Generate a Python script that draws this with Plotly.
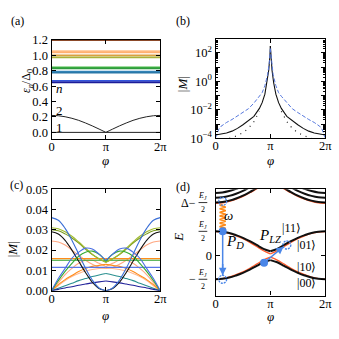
import math
import plotly.graph_objects as go

W = H = 339
FONT = "Liberation Serif"

# ---------------- data ----------------
# phi in units of pi, half grid 0..pi (mirrored about pi)
phi_half = [0, 0.125, 0.25, 0.375, 0.5, 0.625, 0.75, 0.875, 1.0]

# (a) Andreev levels
eps1_half = [0, 0, 0, 0, 0, 0, 0, 0, 0]
eps2_half = [0.22, 0.216, 0.203, 0.183, 0.156, 0.122, 0.084, 0.043, 0.0]
flat_levels = [1.2, 1.055, 1.04, 1.0, 0.975, 0.845, 0.832, 0.79, 0.778, 0.668, 0.65]
flat_colors = ["#8c4a2a", "#ffc08a", "#ffb070", "#d9a040", "#aab23a", "#44bb44",
               "#2e9a3e", "#3a8fc4", "#2a78a8", "#3355dd", "#1c1c99"]
label_a = [("<i>n</i>", 0.14, 0.57), ("2", 0.14, 0.28), ("1", 0.155, 0.06)]

# (b) |M| log
phi_b_black = [0, 0.1, 0.2, 0.3, 0.4, 0.5, 0.6, 0.7, 0.8, 0.85, 0.9, 0.94, 0.97, 0.99, 1.0]
M_black = [1.7e-4, 1.9e-4, 2.4e-4, 3.2e-4, 5e-4, 9e-4, 1.7e-3, 3.5e-3, 1.26e-2, 3.2e-2,
           0.126, 0.8, 6.0, 50.0, 300.0]
phi_b_blue = [0, 0.03, 0.06, 0.1, 0.15, 0.2, 0.3, 0.4, 0.5, 0.6, 0.7, 0.8, 0.85, 0.9,
              0.95, 0.98, 1.0]
M_blue = [1.1e-4, 2.5e-4, 4.5e-4, 7e-4, 1.0e-3, 1.3e-3, 2.1e-3, 3.6e-3, 6.5e-3, 1.2e-2,
          3.0e-2, 9e-2, 0.16, 0.5, 3.0, 20.0, 200.0]
phi_b_dot = [0.25, 0.3, 0.4, 0.5, 0.6, 0.7, 0.8]
M_dot = [1.0e-4, 1.1e-4, 1.6e-4, 2.5e-4, 5e-4, 1.5e-3, 8e-3]

# (c) |M| linear, values at phi_half (mirrored)
c_curves = [
    ("#ffa882", [0.0245, 0.024, 0.0225, 0.020, 0.0175, 0.015, 0.013, 0.0115, 0.011]),
    ("#ffa882", [0, 0.004, 0.008, 0.011, 0.0135, 0.015, 0.015, 0.0135, 0.012]),
    ("#ffb890", [0, 0.0025, 0.005, 0.007, 0.0085, 0.0097, 0.0105, 0.011, 0.0112]),
    ("#ff8c1a", [0, 0.003, 0.0055, 0.0075, 0.0095, 0.011, 0.012, 0.0125, 0.013]),
    ("#ff8c1a", [0.0158] * 9),
    ("#2ca02c", [0.0150] * 9),
    ("#5a78e8", [0.0115] * 9),
    ("#2a9090", [0, 0.0012, 0.0025, 0.0037, 0.005, 0.006, 0.007, 0.0078, 0.0085]),
    ("#22229a", [0, 0.0007, 0.0014, 0.002, 0.0027, 0.0033, 0.0039, 0.0044, 0.0048]),
    ("#111111", [0.029, 0.0279, 0.0248, 0.020, 0.0145, 0.009, 0.0042, 0.0011, 0.0]),
    ("#7a9a20", [0.030, 0.0295, 0.028, 0.026, 0.0235, 0.0205, 0.0178, 0.0157, 0.014]),
    ("#a0bb30", [0.031, 0.0305, 0.029, 0.0268, 0.024, 0.021, 0.018, 0.0158, 0.014]),
    ("#33aa33", [0, 0.005, 0.0095, 0.0135, 0.017, 0.019, 0.0195, 0.018, 0.0145]),
    ("#4a6fe3", [0, 0.006, 0.011, 0.016, 0.019, 0.021, 0.0205, 0.018, 0.015]),
    ("#3b6fd6", [0.036, 0.0347, 0.0307, 0.0249, 0.018, 0.0111, 0.0053, 0.0014, 0.0]),
]

# (d) energy levels, values at phi_half (mirrored)
d_black = [
    [1.0, 0.98, 0.93, 0.84, 0.73, 0.59, 0.43, 0.27, 0.17],
    [-1.0, -0.98, -0.93, -0.84, -0.73, -0.6, -0.44, -0.29, -0.2],
    [2.2, 2.22, 2.28, 2.37, 2.49, 2.64, 2.8, 2.95, 3.0],
    [2.4, 2.42, 2.48, 2.57, 2.69, 2.84, 3.0, 3.15, 3.2],
    [2.6, 2.62, 2.68, 2.77, 2.89, 3.04, 3.2, 3.35, 3.4],
]
d_red = [
    [0.99, 0.97, 0.91, 0.81, 0.69, 0.54, 0.37, 0.19, 0.06],
    [-0.99, -0.97, -0.91, -0.81, -0.69, -0.54, -0.37, -0.2, -0.08],
    [2.17, 2.19, 2.25, 2.34, 2.46, 2.61, 2.77, 2.92, 2.97],
]
d_texts = [("|11⟩", 1.38, 1.16), ("|01⟩", 1.66, 0.44), ("|10⟩", 1.66, -0.48),
           ("|00⟩", 1.66, -1.16)]

# ---------------- helpers ----------------
def mirror(half):
    return half + [None] + half[::-1]

def mirror_x(half):
    return half + [None] + [2 - v for v in half[::-1]]

def dom_x(a, b):
    return [a / W, b / W]

def dom_y(top, bot):
    return [1 - bot / H, 1 - top / H]

fig = go.Figure()

# ---- (a)
for lvl, col in zip(flat_levels, flat_colors):
    fig.add_trace(go.Scatter(x=[0, 2], y=[lvl, lvl], mode="lines",
                             line=dict(color=col, width=1.8), xaxis="x", yaxis="y"))
fig.add_trace(go.Scatter(x=mirror_x(phi_half), y=mirror(eps1_half), mode="lines",
                         line=dict(color="#222", width=1), xaxis="x", yaxis="y"))
fig.add_trace(go.Scatter(x=mirror_x(phi_half), y=mirror(eps2_half), mode="lines",
                         line=dict(color="#222", width=1, shape="spline"), xaxis="x", yaxis="y"))

# ---- (b)
fig.add_trace(go.Scatter(x=mirror_x(phi_b_dot), y=mirror(M_dot), mode="lines",
                         line=dict(color="#222", width=1.2, dash="1px,5px"),
                         xaxis="x2", yaxis="y2"))
fig.add_trace(go.Scatter(x=mirror_x(phi_b_black), y=mirror(M_black), mode="lines",
                         line=dict(color="#111", width=1.1), xaxis="x2", yaxis="y2"))
fig.add_trace(go.Scatter(x=mirror_x(phi_b_blue), y=mirror(M_blue), mode="lines",
                         line=dict(color="#5577dd", width=1, dash="4px,2px"),
                         xaxis="x2", yaxis="y2"))

# ---- (c)
for col, vals in c_curves:
    fig.add_trace(go.Scatter(x=mirror_x(phi_half), y=mirror(vals), mode="lines",
                             line=dict(color=col, width=1.1, shape="spline"),
                             xaxis="x3", yaxis="y3"))

# ---- (d)
for vals in d_red:
    fig.add_trace(go.Scatter(x=mirror_x(phi_half), y=mirror(vals), mode="lines",
                             line=dict(color="#ff5a2a", width=1.3, shape="spline"),
                             xaxis="x4", yaxis="y4"))
for vals in d_black:
    fig.add_trace(go.Scatter(x=mirror_x(phi_half), y=mirror(vals), mode="lines",
                             line=dict(color="#111", width=2, shape="spline"),
                             xaxis="x4", yaxis="y4"))

# wiggle (photon) decoration
wx, wy = [], []
n = 300
y0w, y1w = 1.08, 2.12
for i in range(n + 1):
    t = i / n
    wy.append(y0w + (y1w - y0w) * t)
    wx.append(0.13 + 0.055 * math.sin(2 * math.pi * 7 * t))
fig.add_trace(go.Scatter(x=wx, y=wy, mode="lines", line=dict(color="#ff8c1a", width=1.5),
                         xaxis="x4", yaxis="y4"))

BLUE = "#4a86e8"
fig.add_trace(go.Scatter(x=[0.13, 0.885], y=[1.0, -0.31], mode="markers",
                         marker=dict(color=BLUE, size=8), xaxis="x4", yaxis="y4"))
fig.add_trace(go.Scatter(x=[0.13, 0.13], y=[1.0, -0.85], mode="lines",
                         line=dict(color=BLUE, width=1.5), xaxis="x4", yaxis="y4"))

# ---------------- layout ----------------
TF = 12.5
def axis(domain, anchor, rng, **kw):
    d = dict(domain=domain, anchor=anchor, range=rng, showline=True, linecolor="black",
             linewidth=1.2, mirror="allticks", ticks="inside", ticklen=4, tickcolor="black",
             showgrid=False, zeroline=False,
             tickfont=dict(family=FONT, size=TF, color="black"))
    d.update(kw)
    return d

xt = dict(tickmode="array", tickvals=[0, 1, 2], ticktext=["0", "π", "2π"],
          ticklabelstandoff=-4)

xa = dom_x(50, 162)
xb = dom_x(219, 332)
fig.update_layout(
    width=W, height=H, margin=dict(l=0, r=0, t=0, b=0),
    paper_bgcolor="white", plot_bgcolor="white", showlegend=False,
    font=dict(family=FONT, size=TF, color="black"),
    xaxis=axis(xa, "y", [0, 2], **xt),
    yaxis=axis(dom_y(34, 138), "x", [-0.09, 1.205], tickmode="array",
               tickvals=[0, 0.2, 0.4, 0.6, 0.8, 1.0, 1.2],
               ticktext=["0.0", "0.2", "0.4", "0.6", "0.8", "1.0", "1.2"]),
    xaxis2=axis(xb, "y2", [0, 2], **xt),
    yaxis2=axis(dom_y(33, 137), "x2", [-4, 3], type="log", tickmode="array",
                tickvals=[1e-4, 1e-3, 1e-2, 1e-1, 1, 10, 100, 1000],
                ticktext=["10<sup>−4</sup>", "", "10<sup>−2</sup>", "", "10<sup>0</sup>", "",
                          "10<sup>2</sup>", ""],
                minor=dict(ticks="inside", ticklen=2.5, dtick="D1", tickcolor="black",
                           showgrid=False)),
    xaxis3=axis(xa, "y3", [0, 2], **xt),
    yaxis3=axis(dom_y(190, 296), "x3", [0, 0.05], tickmode="array",
                tickvals=[0, 0.01, 0.02, 0.03, 0.04, 0.05],
                ticktext=["0.00", "0.01", "0.02", "0.03", "0.04", "0.05"]),
    xaxis4=axis(xb, "y4", [0, 2], **xt),
    yaxis4=axis(dom_y(190, 301), "x4", [-1.68, 2.76], tickmode="array",
                tickvals=[-1, 0, 1, 2.2], ticktext=["", "0", "", ""]),
)

ann = []
def pa(text, x, y, size=TF, **kw):
    d = dict(text=text, x=x / W, y=1 - y / H, xref="paper", yref="paper", showarrow=False,
             xanchor="center", yanchor="middle",
             font=dict(family=FONT, size=size, color="black"))
    d.update(kw)
    ann.append(d)

pa("(a)", 15, 15, size=12)
pa("(b)", 185, 15, size=12)
pa("(c)", 14, 186, size=12)
pa("(d)", 185, 188, size=12)
pa("<i>ε<sub>n</sub></i>/Δ<sub>0</sub>", 25, 77, size=12, textangle=-90)
pa("|<i>M</i>|", 185, 81, size=13, textangle=-90)
pa("|<i>M</i>|", 10, 253, size=13, textangle=-90)
pa("<i>E</i>", 180, 240, size=13, textangle=-90)
for xx, yy in [(106, 160), (275.5, 160), (106, 322), (275.5, 323)]:
    pa("<i>φ</i>", xx, yy, size=13)

for t, x, y in label_a:
    ann.append(dict(text=t, x=x, y=y, xref="x", yref="y", showarrow=False,
                    font=dict(family=FONT, size=13, color="black")))

for t, x, y in d_texts:
    ann.append(dict(text=t, x=x, y=y, xref="x4", yref="y4", showarrow=False,
                    font=dict(family=FONT, size=12, color="black")))
ann.append(dict(text="<i>ω</i>", x=0.23, y=1.64, xref="x4", yref="y4", showarrow=False,
                font=dict(family=FONT, size=13, color="black")))
ann.append(dict(text="<i>P<sub>D</sub></i>", x=0.36, y=0.56, xref="x4", yref="y4",
                showarrow=False, font=dict(family=FONT, size=15, color="black")))
ann.append(dict(text="<i>P<sub>LZ</sub></i>", x=1.0, y=0.8, xref="x4", yref="y4",
                showarrow=False, font=dict(family=FONT, size=15, color="black")))
ann.append(dict(x=0.13, y=-0.83, ax=0.13, ay=-0.3, xref="x4", yref="y4", axref="x4",
                ayref="y4", showarrow=True, arrowhead=2, arrowsize=1, arrowwidth=1.5,
                arrowcolor=BLUE, text=""))
ann.append(dict(x=1.24, y=0.36, ax=0.885, ay=-0.31, xref="x4", yref="y4", axref="x4",
                ayref="y4", showarrow=True, arrowhead=2, arrowsize=1, arrowwidth=1.5,
                arrowcolor=BLUE, text=""))

FX = 206
def frac(yv, prefix=None, pre_x=None):
    ann.append(dict(text="<i>E<sub>J</sub></i>", x=FX / W, y=yv + 0.27, xref="paper",
                    yref="y4", xanchor="center", yanchor="middle", showarrow=False,
                    font=dict(family=FONT, size=8, color="black")))
    ann.append(dict(text="2", x=FX / W, y=yv - 0.3, xref="paper", yref="y4",
                    xanchor="center", yanchor="middle", showarrow=False,
                    font=dict(family=FONT, size=8, color="black")))
    if prefix:
        ann.append(dict(text=prefix, x=pre_x / W, y=yv, xref="paper", yref="y4",
                        showarrow=False, xanchor="right", yanchor="middle",
                        font=dict(family=FONT, size=12, color="black")))

frac(2.2, "Δ−", 201)
frac(1.0)
frac(-1.0, "−", 201)

shapes = []
for yv in [2.2, 1.0, -1.0]:
    shapes.append(dict(type="line", xref="paper", yref="y4", x0=201.5 / W, x1=210.5 / W,
                       y0=yv, y1=yv, line=dict(color="black", width=0.8)))
for cx, cy in [(0.13, 2.25), (0.13, -1.0), (1.3, 0.43)]:
    shapes.append(dict(type="circle", xref="x4", yref="y4", xsizemode="pixel",
                       ysizemode="pixel", xanchor=cx, yanchor=cy, x0=-4, x1=4, y0=-4, y1=4,
                       line=dict(color=BLUE, width=1.3, dash="2px,1px")))

fig.update_layout(annotations=ann, shapes=shapes)
fig.write_html("out.html", config={"displayModeBar": False},
               post_script="document.body.style.margin='0px';document.body.style.overflow='hidden';")
